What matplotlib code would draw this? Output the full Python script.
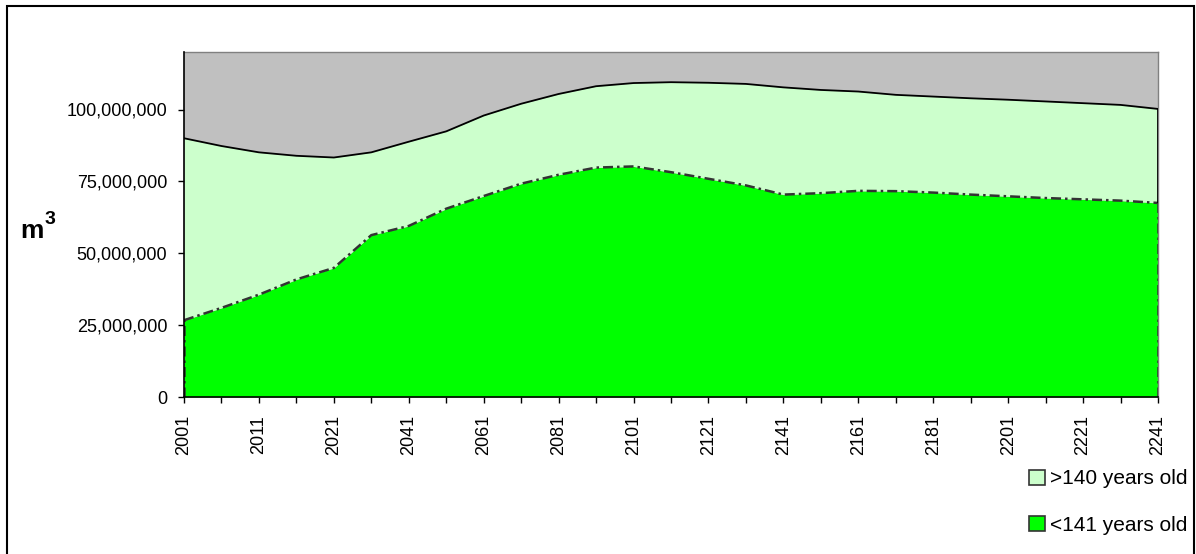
import matplotlib
matplotlib.use('Agg')
import matplotlib.pyplot as plt
import numpy as np
from matplotlib.patches import Patch, Rectangle
from matplotlib.ticker import FuncFormatter

plt.rcParams['font.family'] = ['Liberation Sans', 'DejaVu Sans']

#... data (m3)
years = [2001, 2006, 2011, 2016, 2021, 2031, 2041, 2051, 2061, 2071, 2081,
         2091, 2101, 2111, 2121, 2131, 2141, 2151, 2161, 2171, 2181, 2191,
         2201, 2211, 2221, 2231, 2241]
under_141 = [26.7, 31.0, 35.6, 40.9, 44.9, 56.3, 59.5, 65.5, 69.9, 74.2, 77.3,
             79.8, 80.2, 78.2, 75.9, 73.6, 70.4, 70.9, 71.7, 71.6, 71.1, 70.4,
             69.8, 69.2, 68.75, 68.3, 67.5]
over_140 = [63.3, 56.3, 49.5, 43.0, 38.4, 28.8, 29.3, 26.9, 28.0, 27.8, 28.1,
            28.3, 29.0, 31.3, 33.4, 35.3, 37.3, 35.9, 34.55, 33.5, 33.4, 33.5,
            33.6, 33.6, 33.45, 33.3, 32.7]
labels = ['>140 years old', '<141 years old']

young = np.array(under_141) * 1e6
old = np.array(over_140) * 1e6
total = young + old
x = np.arange(len(years))

#=============================================================================
fig = plt.figure(figsize=(11.96, 5.54), dpi=100)
ax = fig.add_axes([184/1196, 1-397/554, (1158-184)/1196, (397-52)/554])
ax.set_facecolor('#C0C0C0')

#... <141 years old
ax.fill_between(x, 0, young, color='#00FF00', lw=0, zorder=2)
#... >140 years old
ax.fill_between(x, young, total, color='#CCFFCC', lw=0, zorder=2)

dd = (0, (4, 1.6, 1, 1.6))
ax.plot(x, young, color='#333333', lw=1.8, ls=dd, zorder=3)
ax.vlines([x[0], x[-1]], 0, [young[0], young[-1]], color='#333333', lw=1.8, ls=dd, zorder=3)
ax.plot(x, total, color='black', lw=1.3, zorder=3)
ax.vlines(x[-1], young[-1], total[-1], color='black', lw=1.3, zorder=3)

ax.set_xlim(0, len(years)-1)
ax.set_ylim(0, 120e6)
ax.set_yticks(np.arange(0, 100e6+1, 25e6))
ax.yaxis.set_major_formatter(FuncFormatter(lambda v, p: '{:,.0f}'.format(v)))
ax.set_xticks(x)
ax.set_xticklabels([str(y) if i % 2 == 0 else '' for i, y in enumerate(years)], rotation=90)
ax.tick_params(axis='both', direction='out', length=4, width=1, color='black', labelsize=13)
ax.tick_params(axis='y', pad=8)
ax.tick_params(axis='x', pad=9)

for s in ['left', 'bottom']:
    ax.spines[s].set_color('black')
    ax.spines[s].set_linewidth(1.2)
    ax.spines[s].set_zorder(4)
for s in ['top', 'right']:
    ax.spines[s].set_color('#808080')
    ax.spines[s].set_linewidth(1)

#... y label m3
fig.text(20/1196, 1-238/554, 'm', fontsize=19, fontweight='bold', ha='left', va='baseline')
fig.text(45/1196, 1-224/554, '3', fontsize=14, fontweight='bold', ha='left', va='baseline')

#... legend
handles = [Patch(facecolor='#CCFFCC', edgecolor='#333333', lw=1.2),
           Patch(facecolor='#00FF00', edgecolor='#333333', lw=1.2)]
fig.legend(handles, labels, loc='center left', bbox_to_anchor=(1029/1196, 1-502/554),
           frameon=False, fontsize=15, handlelength=0.75, handleheight=0.75,
           handletextpad=0.25, labelspacing=1.3, borderpad=0, borderaxespad=0)

#... chart border
fig.add_artist(Rectangle((7/1196, -0.05), (1194-7)/1196, 1.05-6/554,
                         transform=fig.transFigure, fill=False, lw=1.5, ec='black'))

fig.savefig('out.png', dpi=100)
